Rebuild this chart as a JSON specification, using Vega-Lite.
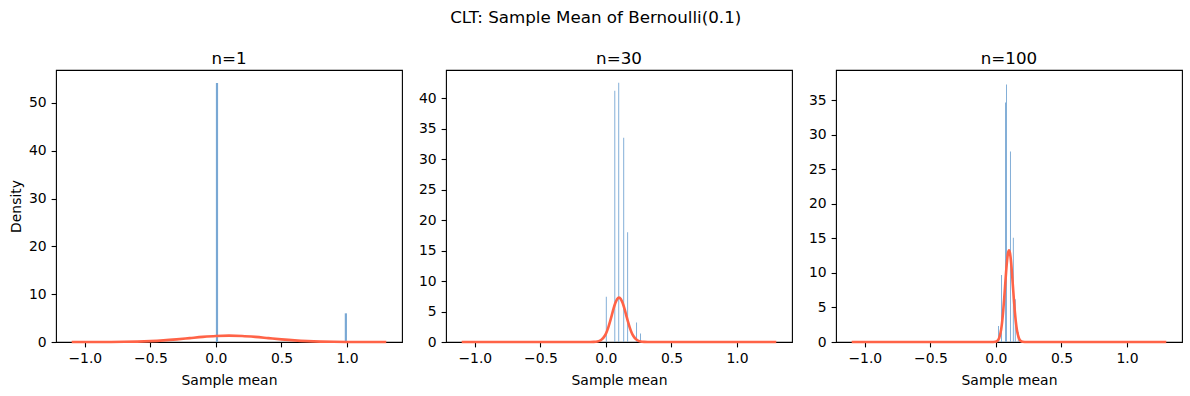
{
  "$schema": "https://vega.github.io/schema/vega-lite/v6.json",
  "padding": {"left": 8, "top": 10, "right": 10, "bottom": 4},
  "title": {"text": "CLT: Sample Mean of Bernoulli(0.1)", "fontSize": 16.7, "fontWeight": "normal", "anchor": "middle", "color": "black", "font": "DejaVu Sans", "offset": 24},
  "spacing": 14,
  "datasets": {
    "bars": [
      {"n": 1, "value": 0.0, "value_end": 0.0167, "density": 54.2},
      {"n": 1, "value": 0.9833, "value_end": 1.0, "density": 6.0},
      {"n": 30, "value": -0.0005, "value_end": 0.0065, "density": 7.4},
      {"n": 30, "value": 0.0645, "value_end": 0.0715, "density": 41.2},
      {"n": 30, "value": 0.0945, "value_end": 0.1015, "density": 42.5},
      {"n": 30, "value": 0.1325, "value_end": 0.1395, "density": 33.5},
      {"n": 30, "value": 0.1625, "value_end": 0.1695, "density": 18.0},
      {"n": 30, "value": 0.2305, "value_end": 0.2375, "density": 3.2},
      {"n": 30, "value": 0.2605, "value_end": 0.2675, "density": 1.4},
      {"n": 100, "value": 0.0165, "value_end": 0.0235, "density": 2.3},
      {"n": 100, "value": 0.0395, "value_end": 0.0465, "density": 9.7},
      {"n": 100, "value": 0.0695, "value_end": 0.0765, "density": 34.7},
      {"n": 100, "value": 0.0775, "value_end": 0.0845, "density": 37.3},
      {"n": 100, "value": 0.1075, "value_end": 0.1145, "density": 27.6},
      {"n": 100, "value": 0.1295, "value_end": 0.1365, "density": 15.1},
      {"n": 100, "value": 0.1445, "value_end": 0.1515, "density": 6.2},
      {"n": 100, "value": 0.1675, "value_end": 0.1745, "density": 1.4}
    ],
    "curve": [
      {"n": 1, "value": -1.1, "density": 0.00045},
      {"n": 1, "value": -1.0, "density": 0.0016},
      {"n": 1, "value": -0.9, "density": 0.0051},
      {"n": 1, "value": -0.8, "density": 0.0148},
      {"n": 1, "value": -0.7, "density": 0.038},
      {"n": 1, "value": -0.6, "density": 0.0874},
      {"n": 1, "value": -0.5, "density": 0.18},
      {"n": 1, "value": -0.4, "density": 0.3317},
      {"n": 1, "value": -0.3, "density": 0.5467},
      {"n": 1, "value": -0.2, "density": 0.8066},
      {"n": 1, "value": -0.1, "density": 1.0648},
      {"n": 1, "value": 0.0, "density": 1.258},
      {"n": 1, "value": 0.1, "density": 1.3298},
      {"n": 1, "value": 0.2, "density": 1.258},
      {"n": 1, "value": 0.3, "density": 1.0648},
      {"n": 1, "value": 0.4, "density": 0.8066},
      {"n": 1, "value": 0.5, "density": 0.5467},
      {"n": 1, "value": 0.6, "density": 0.3317},
      {"n": 1, "value": 0.7, "density": 0.18},
      {"n": 1, "value": 0.8, "density": 0.0874},
      {"n": 1, "value": 0.9, "density": 0.038},
      {"n": 1, "value": 1.0, "density": 0.0148},
      {"n": 1, "value": 1.1, "density": 0.0051},
      {"n": 1, "value": 1.2, "density": 0.0016},
      {"n": 1, "value": 1.3, "density": 0.00045},
      {"n": 30, "value": -1.1, "density": 0.0},
      {"n": 30, "value": -0.146474, "density": 0.0003},
      {"n": 30, "value": -0.119088, "density": 0.00244},
      {"n": 30, "value": -0.091702, "density": 0.0159},
      {"n": 30, "value": -0.064316, "density": 0.0809},
      {"n": 30, "value": -0.03693, "density": 0.32},
      {"n": 30, "value": -0.009544, "density": 0.9858},
      {"n": 30, "value": 0.004149, "density": 1.5752},
      {"n": 30, "value": 0.017842, "density": 2.3646},
      {"n": 30, "value": 0.031535, "density": 3.3346},
      {"n": 30, "value": 0.045228, "density": 4.4177},
      {"n": 30, "value": 0.058921, "density": 5.498},
      {"n": 30, "value": 0.072614, "density": 6.4278},
      {"n": 30, "value": 0.086307, "density": 7.0595},
      {"n": 30, "value": 0.1, "density": 7.2836},
      {"n": 30, "value": 0.113693, "density": 7.0595},
      {"n": 30, "value": 0.127386, "density": 6.4278},
      {"n": 30, "value": 0.141079, "density": 5.498},
      {"n": 30, "value": 0.154772, "density": 4.4177},
      {"n": 30, "value": 0.168465, "density": 3.3346},
      {"n": 30, "value": 0.182158, "density": 2.3646},
      {"n": 30, "value": 0.195851, "density": 1.5752},
      {"n": 30, "value": 0.209544, "density": 0.9858},
      {"n": 30, "value": 0.23693, "density": 0.32},
      {"n": 30, "value": 0.264316, "density": 0.0809},
      {"n": 30, "value": 0.291702, "density": 0.0159},
      {"n": 30, "value": 0.319088, "density": 0.00244},
      {"n": 30, "value": 0.346474, "density": 0.0003},
      {"n": 30, "value": 1.3, "density": 0.0},
      {"n": 100, "value": -1.1, "density": 0.0},
      {"n": 100, "value": -0.035, "density": 0.00053},
      {"n": 100, "value": -0.02, "density": 0.00446},
      {"n": 100, "value": -0.005, "density": 0.0291},
      {"n": 100, "value": 0.01, "density": 0.1477},
      {"n": 100, "value": 0.025, "density": 0.5843},
      {"n": 100, "value": 0.04, "density": 1.7997},
      {"n": 100, "value": 0.0475, "density": 2.876},
      {"n": 100, "value": 0.055, "density": 4.3172},
      {"n": 100, "value": 0.0625, "density": 6.0882},
      {"n": 100, "value": 0.07, "density": 8.0657},
      {"n": 100, "value": 0.0775, "density": 10.038},
      {"n": 100, "value": 0.085, "density": 11.735},
      {"n": 100, "value": 0.0925, "density": 12.889},
      {"n": 100, "value": 0.1, "density": 13.298},
      {"n": 100, "value": 0.1075, "density": 12.889},
      {"n": 100, "value": 0.115, "density": 11.735},
      {"n": 100, "value": 0.1225, "density": 10.038},
      {"n": 100, "value": 0.13, "density": 8.0657},
      {"n": 100, "value": 0.1375, "density": 6.0882},
      {"n": 100, "value": 0.145, "density": 4.3172},
      {"n": 100, "value": 0.1525, "density": 2.876},
      {"n": 100, "value": 0.16, "density": 1.7997},
      {"n": 100, "value": 0.175, "density": 0.5843},
      {"n": 100, "value": 0.19, "density": 0.1477},
      {"n": 100, "value": 0.205, "density": 0.0291},
      {"n": 100, "value": 0.22, "density": 0.00446},
      {"n": 100, "value": 0.235, "density": 0.00053},
      {"n": 100, "value": 1.3, "density": 0.0}
    ]
  },
  "hconcat": [
    {
      "width": 346, "height": 272, "title": "n=1",
      "encoding": {
        "x": {"field": "value", "type": "quantitative", "title": "Sample mean", "scale": {"domain": [-1.22, 1.42], "nice": false, "zero": false}, "axis": {"values": [-1, -0.5, 0, 0.5, 1], "format": ".1f"}},
        "y": {"field": "density", "type": "quantitative", "title": "Density", "scale": {"domain": [0, 56.9], "nice": false}, "axis": {"values": [0, 10, 20, 30, 40, 50]}}
      },
      "layer": [
        {
          "data": {"name": "bars"},
          "transform": [{"filter": "datum.n == 1"}],
          "mark": {"type": "rect", "color": "#79a8d4"},
          "encoding": {"x2": {"field": "value_end"}, "y2": {"datum": 0}}
        },
        {
          "data": {"name": "curve"},
          "transform": [{"filter": "datum.n == 1"}],
          "mark": {"type": "line", "color": "#ff6347", "strokeWidth": 2.6, "interpolate": "monotone"},
          "encoding": {}
        }
      ]
    },
    {
      "width": 346, "height": 272, "title": "n=30",
      "encoding": {
        "x": {"field": "value", "type": "quantitative", "title": "Sample mean", "scale": {"domain": [-1.22, 1.42], "nice": false, "zero": false}, "axis": {"values": [-1, -0.5, 0, 0.5, 1], "format": ".1f"}},
        "y": {"field": "density", "type": "quantitative", "title": null, "scale": {"domain": [0, 44.6], "nice": false}, "axis": {"values": [0, 5, 10, 15, 20, 25, 30, 35, 40]}}
      },
      "layer": [
        {
          "data": {"name": "bars"},
          "transform": [{"filter": "datum.n == 30"}],
          "mark": {"type": "rect", "color": "#79a8d4"},
          "encoding": {"x2": {"field": "value_end"}, "y2": {"datum": 0}}
        },
        {
          "data": {"name": "curve"},
          "transform": [{"filter": "datum.n == 30"}],
          "mark": {"type": "line", "color": "#ff6347", "strokeWidth": 2.6, "interpolate": "monotone"},
          "encoding": {}
        }
      ]
    },
    {
      "width": 346, "height": 272, "title": "n=100",
      "encoding": {
        "x": {"field": "value", "type": "quantitative", "title": "Sample mean", "scale": {"domain": [-1.22, 1.42], "nice": false, "zero": false}, "axis": {"values": [-1, -0.5, 0, 0.5, 1], "format": ".1f"}},
        "y": {"field": "density", "type": "quantitative", "title": null, "scale": {"domain": [0, 39.4], "nice": false}, "axis": {"values": [0, 5, 10, 15, 20, 25, 30, 35]}}
      },
      "layer": [
        {
          "data": {"name": "bars"},
          "transform": [{"filter": "datum.n == 100"}],
          "mark": {"type": "rect", "color": "#79a8d4"},
          "encoding": {"x2": {"field": "value_end"}, "y2": {"datum": 0}}
        },
        {
          "data": {"name": "curve"},
          "transform": [{"filter": "datum.n == 100"}],
          "mark": {"type": "line", "color": "#ff6347", "strokeWidth": 2.6, "interpolate": "monotone"},
          "encoding": {}
        }
      ]
    }
  ],
  "config": {
    "font": "DejaVu Sans",
    "background": "white",
    "view": {"stroke": "black", "strokeWidth": 1.1},
    "title": {"fontSize": 16.7, "fontWeight": "normal", "color": "black", "offset": 2},
    "axis": {
      "grid": false,
      "domain": false,
      "ticks": true,
      "tickColor": "black",
      "tickSize": 4.9,
      "tickWidth": 1.1,
      "labelFontSize": 13.9,
      "labelColor": "black",
      "labelPadding": 4.9,
      "titleFontSize": 13.9,
      "titleFontWeight": "normal",
      "titleColor": "black",
      "titlePadding": 5
    },
    "axisY": {"labelFlush": false},
    "axisX": {"labelFlush": false, "titlePadding": 8}
  }
}
